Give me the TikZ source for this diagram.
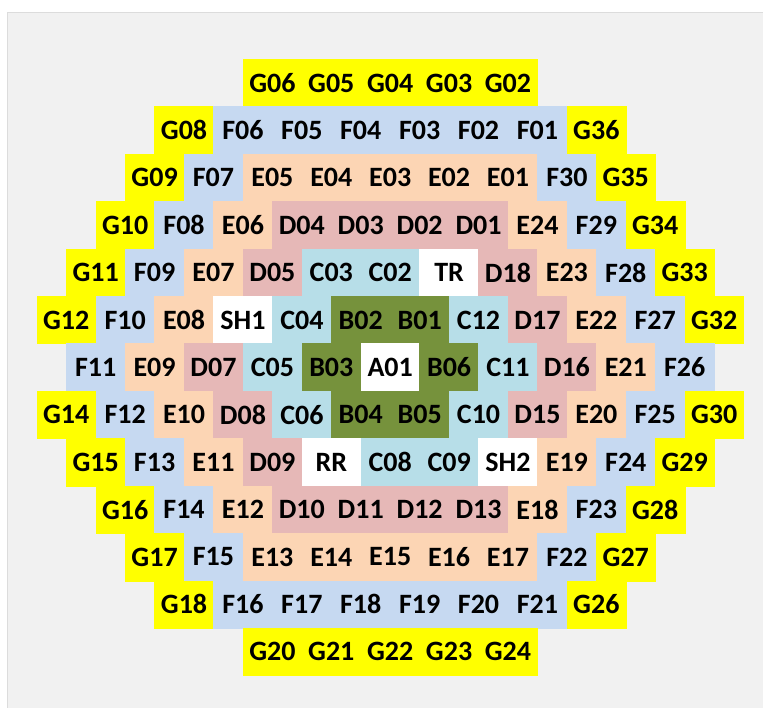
\documentclass[tikz,border=0pt]{standalone}
\usepackage{fontspec}
\setmainfont{Carlito}
\definecolor{panelgray}{HTML}{F1F1F1}
\definecolor{panelline}{HTML}{DCDCDC}
\definecolor{gyellow}{HTML}{FFFF00}
\definecolor{fblue}{HTML}{C6D9F1}
\definecolor{epeach}{HTML}{FCD5B4}
\definecolor{dpink}{HTML}{E6B8B7}
\definecolor{ccyan}{HTML}{B7DEE8}
\definecolor{bgreen}{HTML}{76923C}

\begin{document}
\begin{tikzpicture}[x=1pt,y=-1pt,
    every node/.style={font=\bfseries\fontsize{28}{30}\selectfont},
    cell/.style={minimum width=58.9pt,minimum height=47.4pt,inner sep=0pt,line width=0.4pt},
    gcell/.style={cell,fill=gyellow,draw=gyellow},
    fcell/.style={cell,fill=fblue,draw=fblue},
    ecell/.style={cell,fill=epeach,draw=epeach},
    dcell/.style={cell,fill=dpink,draw=dpink},
    ccell/.style={cell,fill=ccyan,draw=ccyan},
    bcell/.style={cell,fill=bgreen,draw=bgreen},
    wcell/.style={cell,fill=white,draw=white}
]
\useasboundingbox (0,0) rectangle (763,708);
\fill[panelgray] (7,12) rectangle (763,708);
\draw[panelline] (7.5,708) -- (7.5,12.5) -- (763,12.5);
\foreach \r/\n/\cells in {
    0/5/{G06/gcell,G05/gcell,G04/gcell,G03/gcell,G02/gcell},
    1/8/{G08/gcell,F06/fcell,F05/fcell,F04/fcell,F03/fcell,F02/fcell,F01/fcell,G36/gcell},
    2/9/{G09/gcell,F07/fcell,E05/ecell,E04/ecell,E03/ecell,E02/ecell,E01/ecell,F30/fcell,G35/gcell},
    3/10/{G10/gcell,F08/fcell,E06/ecell,D04/dcell,D03/dcell,D02/dcell,D01/dcell,E24/ecell,F29/fcell,G34/gcell},
    4/11/{G11/gcell,F09/fcell,E07/ecell,D05/dcell,C03/ccell,C02/ccell,TR/wcell,D18/dcell,E23/ecell,F28/fcell,G33/gcell},
    5/12/{G12/gcell,F10/fcell,E08/ecell,SH1/wcell,C04/ccell,B02/bcell,B01/bcell,C12/ccell,D17/dcell,E22/ecell,F27/fcell,G32/gcell},
    6/11/{F11/fcell,E09/ecell,D07/dcell,C05/ccell,B03/bcell,A01/wcell,B06/bcell,C11/ccell,D16/dcell,E21/ecell,F26/fcell},
    7/12/{G14/gcell,F12/fcell,E10/ecell,D08/dcell,C06/ccell,B04/bcell,B05/bcell,C10/ccell,D15/dcell,E20/ecell,F25/fcell,G30/gcell},
    8/11/{G15/gcell,F13/fcell,E11/ecell,D09/dcell,RR/wcell,C08/ccell,C09/ccell,SH2/wcell,E19/ecell,F24/fcell,G29/gcell},
    9/10/{G16/gcell,F14/fcell,E12/ecell,D10/dcell,D11/dcell,D12/dcell,D13/dcell,E18/ecell,F23/fcell,G28/gcell},
    10/9/{G17/gcell,F15/fcell,E13/ecell,E14/ecell,E15/ecell,E16/ecell,E17/ecell,F22/fcell,G27/gcell},
    11/8/{G18/gcell,F16/fcell,F17/fcell,F18/fcell,F19/fcell,F20/fcell,F21/fcell,G26/gcell},
    12/5/{G20/gcell,G21/gcell,G22/gcell,G23/gcell,G24/gcell}}{
  \foreach \lab/\sty [count=\i] in \cells
    \node[\sty] (\lab) at ({390.2+(\i-1-(\n-1)/2)*58.9},{59.3+(\r+0.5)*47.4}) {\lab};
}
\end{tikzpicture}
\end{document}
